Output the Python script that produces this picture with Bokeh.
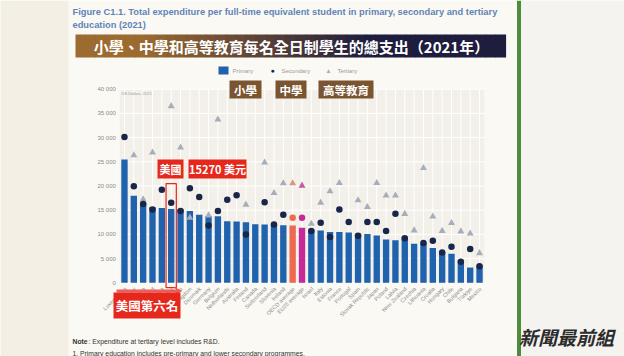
import numpy as np
from math import pi
from bokeh.plotting import figure
from bokeh.models import Range1d, ColumnDataSource, Label, BoxAnnotation, Arrow, VeeHead
from bokeh.core.properties import value
from bokeh.embed import file_html
from bokeh.resources import INLINE

# ---------------- data ----------------
countries = ["Luxembourg", "Norway", "Austria", "Iceland", "Korea", "United States", "Sweden",
             "United Kingdom", "Denmark", "Germany", "Belgium", "Netherlands", "Australia",
             "Finland", "Canada", "Switzerland", "Slovenia", "Ireland", "OECD average",
             "EU25 average", "Israel", "Italy", "Estonia", "France", "Portugal", "Spain",
             "Slovak Republic", "Japan", "Poland", "Latvia", "New Zealand", "Czechia",
             "Lithuania", "Croatia", "Hungary", "Chile", "Bulgaria", "Türkiye", "Mexico"]
primary = [25500, 18000, 16500, 15600, 15450, 15270, 15150, 14820, 14080, 13800, 13750,
           12700, 12690, 12500, 12100, 12070, 12000, 11900, 11860, 11380, 10970, 10830,
           10480, 10480, 10410, 10140, 10070, 9790, 8930, 8790, 9440, 8070, 8300, 7200,
           6380, 6000, 4600, 3150, 3580]
secondary = [30140, 19930, 16300, 15170, 19250, 16560, 14820, 19520, 17720, 11860, 14820,
             17180, 18070, 10000, None, 16620, 12070, 14080, 13460, 13460, 10680, 12420,
             9440, 15170, 12540, 9730, 12540, 12540, 10720, 14280, 9200, None, 8200, 8690,
             6270, 7450, 4350, 6960, 3440]
tertiary = [None, 26350, 17240, 26900, None, 36500, 27950, 13460, None, 13930, 33740, None,
            None, 16150, None, 24860, 18550, 20550, 20550, 20080, 12210, 16560, 18900, 20620,
            None, 17040, 15650, 20600, 18040, 18040, 14240, 10830, 23720, 13690, 10720, 12340,
            10620, 10200, 6130]
y_ticks = [0, 5000, 10000, 15000, 20000, 25000, 30000, 35000, 40000]
y_tick_labels = ["0", "5 000", "10 000", "15 000", "20 000", "25 000", "30 000", "35 000", "40 000"]
series_names = ["Primary", "Secondary", "Tertiary"]
us_label = "United States"

# ---------------- styling / layout ----------------
BLUE, NAVY, GREY_TRI = "#1f62ad", "#18264a", "#a7aebb"
OECD_C, EU_C = "#ee6a4e", "#c52a98"
bar_color = [OECD_C if c == "OECD average" else EU_C if c == "EU25 average" else BLUE for c in countries]
dot_color = [OECD_C if c == "OECD average" else EU_C if c == "EU25 average" else NAVY for c in countries]
tri_color = ["#d99a7c" if c == "OECD average" else "#c65aa6" if c == "EU25 average" else GREY_TRI for c in countries]

W, H = 624, 356
N = len(countries)
FL, FR, FT, FB = 119.3, 483.7, 88.7, 282.3          # plot-area edges in pixels
STEP = (FR - FL) / N
VPP = (y_ticks[-1] - y_ticks[0]) / (FB - FT)
x_lo, x_hi = -0.5 - FL / STEP, N - 0.5 + (W - FR) / STEP
y_lo, y_hi = y_ticks[0] - (H - FB) * VPP, y_ticks[-1] + FT * VPP
idx = list(range(N))

p = figure(width=W, height=H, x_range=Range1d(x_lo, x_hi), y_range=Range1d(y_lo, y_hi),
           output_backend="svg", toolbar_location=None, x_axis_type=None, y_axis_type=None,
           min_border=0)
p.extra_x_ranges = {"px": Range1d(0, W)}
p.extra_y_ranges = {"py": Range1d(H, 0)}
p.background_fill_color = "#fbf9f4"
p.border_fill_color = "#fbf9f4"
p.outline_line_color = None
p.grid.visible = False


def box(l, r, t, b, color, level="annotation", line=None, lw=1):
    p.add_layout(BoxAnnotation(left=l, right=r, top=t, bottom=b, x_range_name="px", y_range_name="py",
                               fill_color=color if color else "white", fill_alpha=1 if color else 0,
                               line_color=line if line else "white", line_width=lw,
                               line_alpha=1.0 if line else 0, level=level))


def label(x, y, text, size, color, align="left", font="Liberation Sans", style="normal", baseline="middle"):
    p.add_layout(Label(x=x, y=y, text=text, x_range_name="px", y_range_name="py",
                       text_font_size=f"{size}px", text_color=color, text_align=align,
                       text_baseline=baseline, text_font=font, text_font_style=style))


# outer screenshot background
box(0, 68, 0, H, "#f3efe4", level="underlay")
box(518, W, 0, H, "#f4f3ef", level="underlay")

# plot area + grid
p.quad(left=[-0.5], right=[N - 0.5], bottom=[y_ticks[0]], top=[y_ticks[-1]], fill_color="#f3f0ea", line_color=None)
p.segment(x0=[-0.5] * len(y_ticks), x1=[N - 0.5] * len(y_ticks), y0=y_ticks, y1=y_ticks,
          line_color="white", line_width=1)
p.segment(x0=idx, x1=idx, y0=[y_ticks[0]] * N, y1=[y_ticks[-1]] * N, line_color="white", line_width=1)

src = ColumnDataSource(dict(x=idx, name=countries, primary=primary,
                            secondary=np.array(secondary, dtype=float),
                            tertiary=np.array(tertiary, dtype=float),
                            bc=bar_color, dc=dot_color, tc=tri_color, y0=[0] * N))
p.vbar(x="x", top="primary", width=0.68, source=src, fill_color="bc", line_color=None)
p.scatter(x="x", y="tertiary", marker="triangle", size=7, source=src, fill_color="tc", line_color=None)
p.scatter(x="x", y="secondary", marker="circle", size=6.5, source=src, fill_color="dc", line_color=None)

# tick labels
p.text(x=[FL - 4] * len(y_ticks), y=y_ticks, text=y_tick_labels, x_range_name="px",
       text_align="right", text_baseline="middle", text_font_size="6px", text_color="#8a8a8a",
       text_font=value("Liberation Sans"))
p.text(x="x", y="y0", text="name", source=src, angle=pi / 4, text_align="right", text_baseline="middle",
       x_offset=1, y_offset=5, text_font_size="5.5px", text_color="#8d8d8d", text_font=value("Liberation Sans"))

# green border line
box(516.5, 520.5, 0, H, "#4d8c3c")

# title
label(72, 11, "Figure C1.1. Total expenditure per full-time equivalent student in primary, secondary and tertiary",
      9.3, "#5f84b4", style="bold")
label(72, 24, "education (2021)", 9.3, "#5f84b4", style="bold")

# gradient banner
x0, x1 = 75, 505
n = 43
c0, c1 = np.array([156, 107, 48]), np.array([30, 29, 62])
for i in range(n):
    l = x0 + (x1 - x0) * i / n
    r = x0 + (x1 - x0) * (i + 1) / n + 0.6
    t = min(1.0, max(0.0, ((l + r) / 2 - 140) / 230))
    c = (c0 * (1 - t) + c1 * t).astype(int)
    box(l, r, 34, 57, "#%02x%02x%02x" % tuple(c))
label(291, 45.5, "小學、中學和高等教育每名全日制學生的總支出（2021年）", 15, "white", align="center",
      font="Noto Sans CJK TC", style="bold")

# legend
box(218, 228, 66, 74, BLUE)
label(232, 70, series_names[0], 6, "#999999")
label(272, 70, "●", 7, NAVY, align="center")
label(281, 70, series_names[1], 6, "#999999")
label(328, 69.5, "▲", 6.5, GREY_TRI, align="center")
label(337, 70, series_names[2], 6, "#999999")
label(121, 93, "US Dollars, 2021", 4, "#9a9a9a")

# brown tags
for (l, r, txt) in [(229, 261, "小學"), (275, 306, "中學"), (318, 373, "高等教育")]:
    box(l, r, 80, 98, "#7b5430")
    label((l + r) / 2, 89, txt, 11.5, "white", align="center", font="Noto Sans CJK TC", style="bold")

# red annotations
RED = "#e6281c"
box(157, 183, 159, 178, RED)
label(170, 168.5, "美國", 11, "white", align="center", font="Noto Sans CJK TC", style="bold")
box(188, 246, 159, 178, RED)
label(217, 168.5, "15270 美元", 11, "white", align="center", font="Noto Sans CJK TC", style="bold")
us = countries.index(us_label)
p.quad(left=[us - 0.55], right=[us + 0.55], bottom=[-1000], top=[20500], fill_alpha=0,
       line_color=RED, line_width=1.2)
p.add_layout(Arrow(x_start=116, y_start=290.5, x_end=181, y_end=290.5, x_range_name="px", y_range_name="py",
                   line_color="#ef5a5a", line_width=3,
                   end=VeeHead(size=7, fill_color="#ef5a5a", line_color="#ef5a5a")))
box(113, 180, 292, 318, RED)
label(146.5, 305, "美國第六名", 12.5, "white", align="center", font="Noto Sans CJK TC", style="bold")

# notes
label(72, 341, "Note", 6.8, "#333333", style="bold")
label(88, 341, ": Expenditure at tertiary level includes R&D.", 6.8, "#333333")
label(72, 352.5, "1. Primary education includes pre-primary and lower secondary programmes.", 6.8, "#333333")

# logo
label(566, 336, "新聞最前組", 19, "#2b2b2b", align="center", font="Noto Sans CJK TC", style="bold italic")

open("out.html", "w").write(file_html(p, INLINE))
